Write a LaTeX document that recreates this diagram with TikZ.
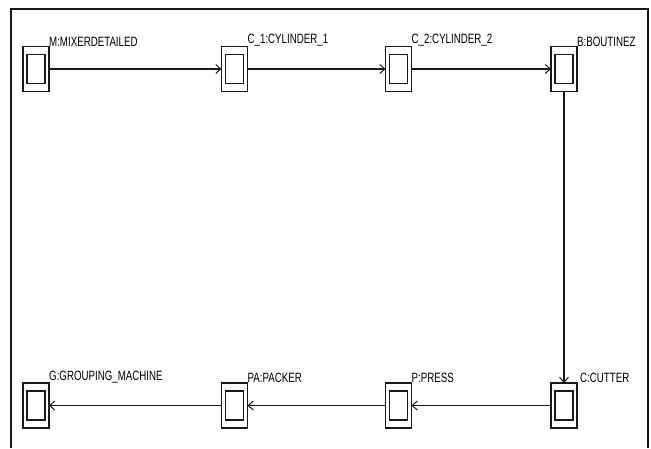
\documentclass[tikz,border=0pt]{standalone}
\usepackage{fontspec}
\setmainfont{Liberation Sans}
\usetikzlibrary{arrows.meta}
\tikzset{
  unit/.style={draw=black!90, line width=1.1pt, minimum width=26pt, minimum height=45pt, inner sep=0pt, outer sep=0pt,
    path picture={\draw[black!90, line width=1.1pt] ([xshift=-9pt,yshift=-14.5pt]path picture bounding box.center) rectangle ++(18pt,29pt);}},
  lab/.style={anchor=south west, inner sep=0pt, font=\fontsize{13.5}{13.5}\selectfont},
  flow/.style={draw=black!90, line width=1.1pt, -{Straight Barb[length=5pt,width=9pt,line width=1pt]}}
}
\newcommand{\lbl}[1]{\scalebox{0.72}[1]{#1}}
\begin{document}
\begin{tikzpicture}[x=1pt,y=-1pt]
\useasboundingbox (0,0) rectangle (651,448);
\draw[black!90, line width=1.1pt] (11,448) -- (11,9) -- (648,9) -- (648,448);
\node[unit, label={[lab]north east:\lbl{M:MIXERDETAILED}}] (m) at (36,69) {};
\node[unit, label={[lab]north east:\lbl{C\_1:CYLINDER\_1}}] (c1) at (234.5,69) {};
\node[unit, label={[lab]north east:\lbl{C\_2:CYLINDER\_2}}] (c2) at (398.5,69) {};
\node[unit, label={[lab]north east:\lbl{B:BOUTINEZ}}] (b) at (564,69) {};
\node[unit, label={[lab]north east:\lbl{G:GROUPING\_MACHINE}}] (g) at (36,405.5) {};
\node[unit, label={[lab]north east:\lbl{PA:PACKER}}] (pa) at (234.5,405.5) {};
\node[unit, label={[lab]north east:\lbl{P:PRESS}}] (p) at (398.5,405.5) {};
\node[unit, label={[lab,xshift=3pt]north east:\lbl{C:CUTTER}}] (c) at (564,405.5) {};
\draw[flow] (m) -- (c1);
\draw[flow] (c1) -- (c2);
\draw[flow] (c2) -- (b);
\draw[flow] (b) -- (c);
\draw[flow] (c) -- (p);
\draw[flow] (p) -- (pa);
\draw[flow] (pa) -- (g);
\end{tikzpicture}
\end{document}
